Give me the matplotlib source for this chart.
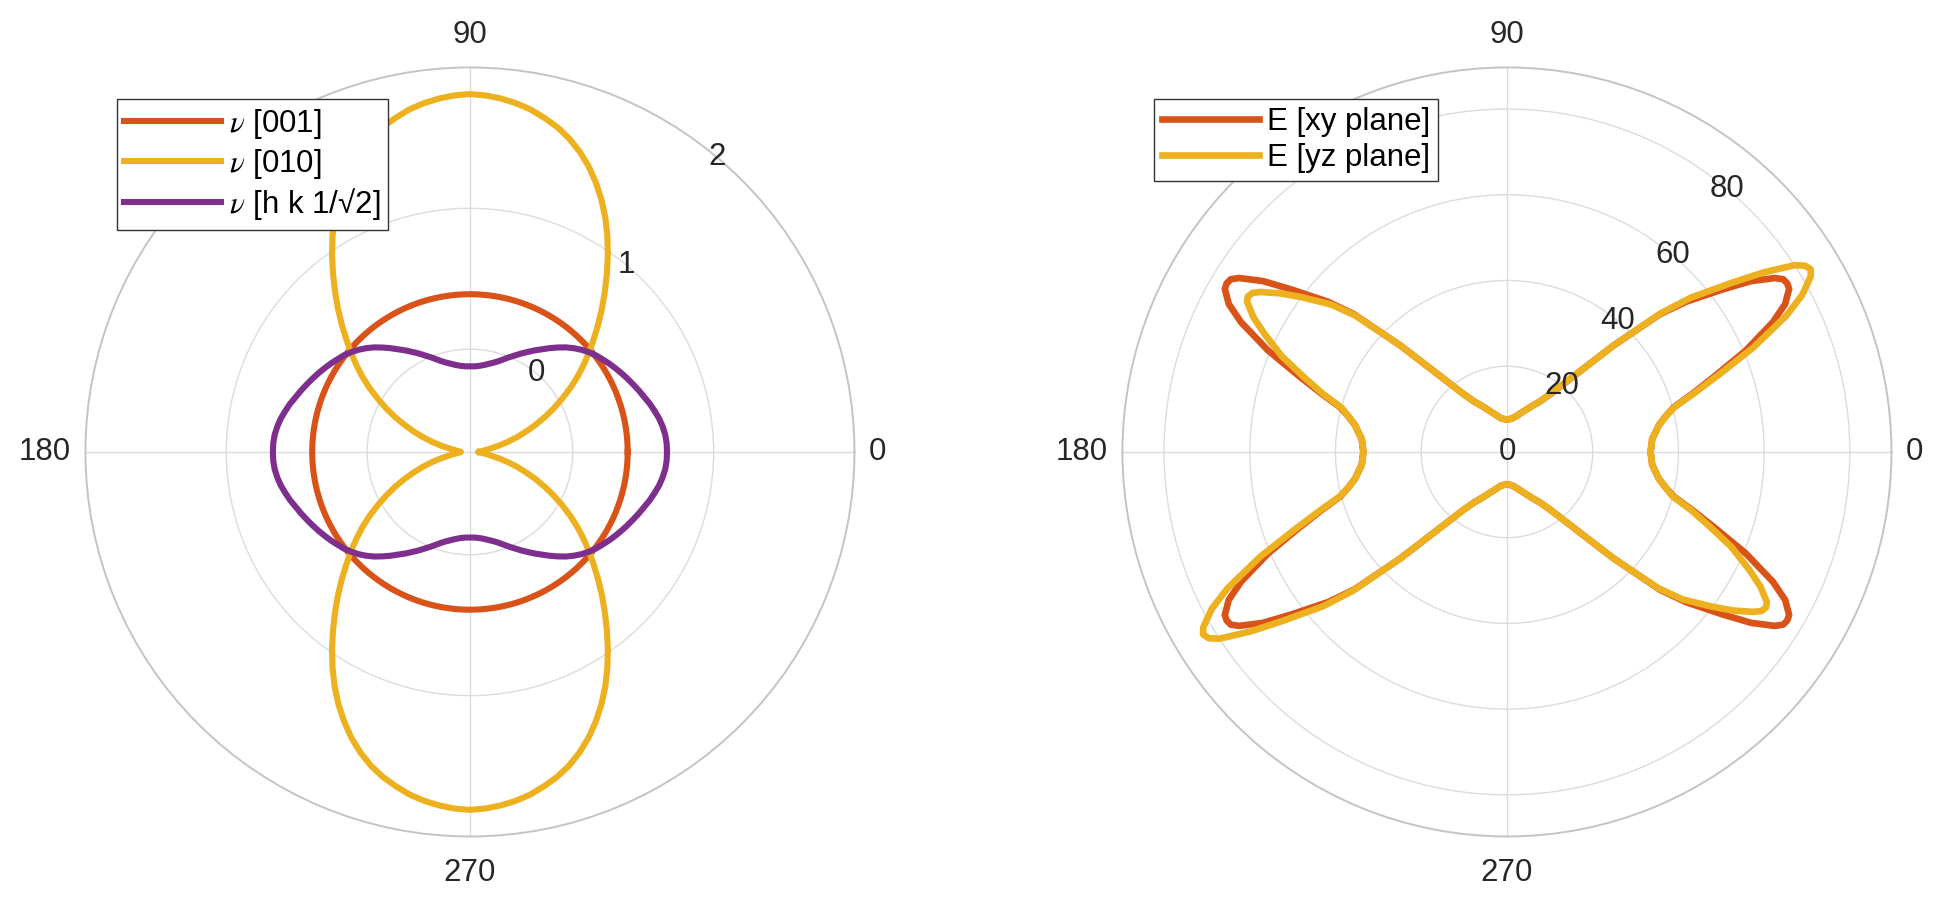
import numpy as np
import matplotlib
matplotlib.use("Agg")
import matplotlib.pyplot as plt
from matplotlib.transforms import offset_copy

plt.rcParams['font.family'] = ['Liberation Sans', 'DejaVu Sans']
plt.rcParams['mathtext.fontset'] = 'stix'

# ---- left panel: Poisson's ratio, read every 2.5 deg over the first quadrant
# (the three curves are mirror symmetric about both axes)
nu_ang = [0, 2.5, 5, 7.5, 10, 12.5, 15, 17.5, 20, 22.5, 25, 27.5, 30, 32.5, 35, 37.5, 40, 42.5, 45,
          47.5, 50, 52.5, 55, 57.5, 60, 62.5, 65, 67.5, 70, 72.5, 75, 77.5, 80, 82.5, 85, 87.5, 90]
nu_001 = [0.39] * 37  # a plain circle
nu_010 = [-0.666, -0.659, -0.642, -0.613, -0.575, -0.518, -0.451, -0.380, -0.306, -0.225,
          -0.143, -0.059, 0.026, 0.115, 0.203, 0.288, 0.376, 0.464, 0.560, 0.659,
          0.761, 0.867, 0.977, 1.086, 1.192, 1.291, 1.383, 1.468, 1.542, 1.606,
          1.659, 1.701, 1.740, 1.768, 1.789, 1.804, 1.811]
nu_hk = [0.669, 0.668, 0.662, 0.650, 0.634, 0.613, 0.592, 0.567, 0.546, 0.524,
         0.503, 0.482, 0.461, 0.440, 0.418, 0.397, 0.372, 0.344, 0.312, 0.277,
         0.238, 0.199, 0.160, 0.125, 0.090, 0.058, 0.026, -0.002, -0.030, -0.054,
         -0.073, -0.088, -0.101, -0.111, -0.118, -0.122, -0.122]
nu_labels = [r'$\nu$ [001]', r'$\nu$ [010]', r'$\nu$ [h k 1/√2]']

# ---- right panel: Young's modulus over 0..177.5 deg (repeats every 180 deg)
e_ang = [0, 5, 10, 12.5, 15, 17.5, 20, 23, 26, 28, 30, 31, 32, 33, 35, 37, 40, 42, 45, 48, 50, 53,
         57, 62, 70, 80, 90, 100, 110, 118, 123, 127, 130, 132, 135, 138, 140, 143, 145, 147, 148,
         149, 150, 152, 154, 157, 160, 162.5, 165, 167.5, 170, 175]
e_xy = [33.5, 34.0, 36.0, 37.8, 40.3, 45.5, 51.5, 60.5, 69.0, 73.5, 76.0, 76.3, 76.0, 74.5, 69.5,
        63.0, 54.5, 48.0, 35.0, 25.0, 21.0, 17.0, 14.0, 12.0, 9.7, 8.0,
        7.5, 8.0, 9.7, 12.0, 14.0, 17.0, 21.0, 25.0, 35.0, 48.0, 54.5, 63.0, 69.5, 74.5, 76.0,
        76.3, 76.0, 73.5, 69.0, 60.5, 51.5, 45.5, 40.3, 37.8, 36.0, 34.0]
e_yz = [33.5, 34.0, 36.0, 37.8, 40.5, 46.0, 52.5, 62.5, 72.5, 78.0, 81.8, 82.7, 82.0, 80.0, 73.0,
        65.5, 56.0, 48.5, 35.0, 25.0, 21.0, 17.0, 14.0, 12.0, 9.7, 8.0,
        7.5, 8.0, 9.7, 12.0, 14.0, 17.0, 21.0, 25.0, 35.0, 47.5, 53.5, 60.0, 64.5, 68.5, 70.0,
        70.5, 70.0, 67.0, 63.0, 57.0, 50.0, 45.0, 40.0, 37.8, 36.0, 34.0]
e_labels = ['E [xy plane]', 'E [yz plane]']

c_red = '#D95319'
c_yel = '#EDB120'
c_pur = '#7E2F8E'
txt_col = '#262626'
grid_col = '#DCDCDC'
FS = 22.5


def mirror_quadrant(ang, vals):
    a = np.array(ang, float)
    v = np.array(vals, float)
    full_a = np.concatenate([a, 180 - a[::-1][1:], 180 + a[1:], 360 - a[::-1][1:]])
    full_v = np.concatenate([v, v[::-1][1:], v[1:], v[::-1][1:]])
    return np.deg2rad(full_a), full_v


def repeat_half(ang, vals):
    a = np.array(ang + [180], float)
    v = np.array(vals + [vals[0]], float)
    full_a = np.concatenate([a[:-1], a + 180])
    full_v = np.concatenate([v[:-1], v])
    return np.deg2rad(full_a), full_v


def style_polar(ax, rmin, rmax, rticks):
    ax.set_ylim(rmin, rmax)
    ax.set_yticks(rticks)
    ax.set_yticklabels([])
    ax.set_xticks(np.deg2rad([0, 90, 180, 270]))
    ax.set_xticklabels([])
    ax.grid(True, color=grid_col, linewidth=1.0)
    ax.spines['polar'].set_color('#C4C4C4')
    ax.spines['polar'].set_linewidth(1.4)
    # angle labels, offset in pixels from the outer ring
    for deg, dx, dy in [(0, 23, 0), (90, 0, 32), (180, -41, 0), (270, 0, -37)]:
        tr = offset_copy(ax.transData, fig=ax.figure, x=dx, y=dy, units='dots')
        ax.text(np.deg2rad(deg), rmax, str(deg), transform=tr, fontsize=FS, color=txt_col,
                ha='center', va='center', clip_on=False)


def add_legend(ax, x0):
    leg = ax.legend(loc='upper left', bbox_to_anchor=(x0, 0.8908), bbox_transform=fig.transFigure,
                    fontsize=FS, frameon=True, fancybox=False, edgecolor='#333333', framealpha=1,
                    borderpad=0.25, handlelength=3.1, handletextpad=0.25, labelspacing=0.18,
                    borderaxespad=0)
    leg.get_frame().set_linewidth(1.0)


fig = plt.figure(figsize=(19.5, 9.09), dpi=100)

ax1 = fig.add_axes([0.0438, 0.0798, 0.3944, 0.846], projection='polar')
ax2 = fig.add_axes([0.5756, 0.0798, 0.3944, 0.846], projection='polar')

# left
style_polar(ax1, -0.73, 2.0, [0, 1])
for vals, col, lab in zip([nu_001, nu_010, nu_hk], [c_red, c_yel, c_pur], nu_labels):
    th, r = mirror_quadrant(nu_ang, vals)
    ax1.plot(th, r, color=col, lw=4.4, label=lab)
for v in [0, 1, 2]:
    ax1.text(np.deg2rad(50), v, str(v), fontsize=FS, color=txt_col, ha='center', va='center')
add_legend(ax1, 0.0598)

# right
style_polar(ax2, 0, 89.7, [20, 40, 60, 80])
for vals, col, lab in zip([e_xy, e_yz], [c_red, c_yel], e_labels):
    th, r = repeat_half(e_ang, vals)
    ax2.plot(th, r, color=col, lw=4.8, label=lab)
for v in [20, 40, 60, 80]:
    ax2.text(np.deg2rad(50), v, str(v), fontsize=FS, color=txt_col, ha='center', va='center')
ax2.text(0, 0, '0', fontsize=FS, color=txt_col, ha='center', va='center')
add_legend(ax2, 0.5918)

fig.savefig('out.png', dpi=100, facecolor='white')
